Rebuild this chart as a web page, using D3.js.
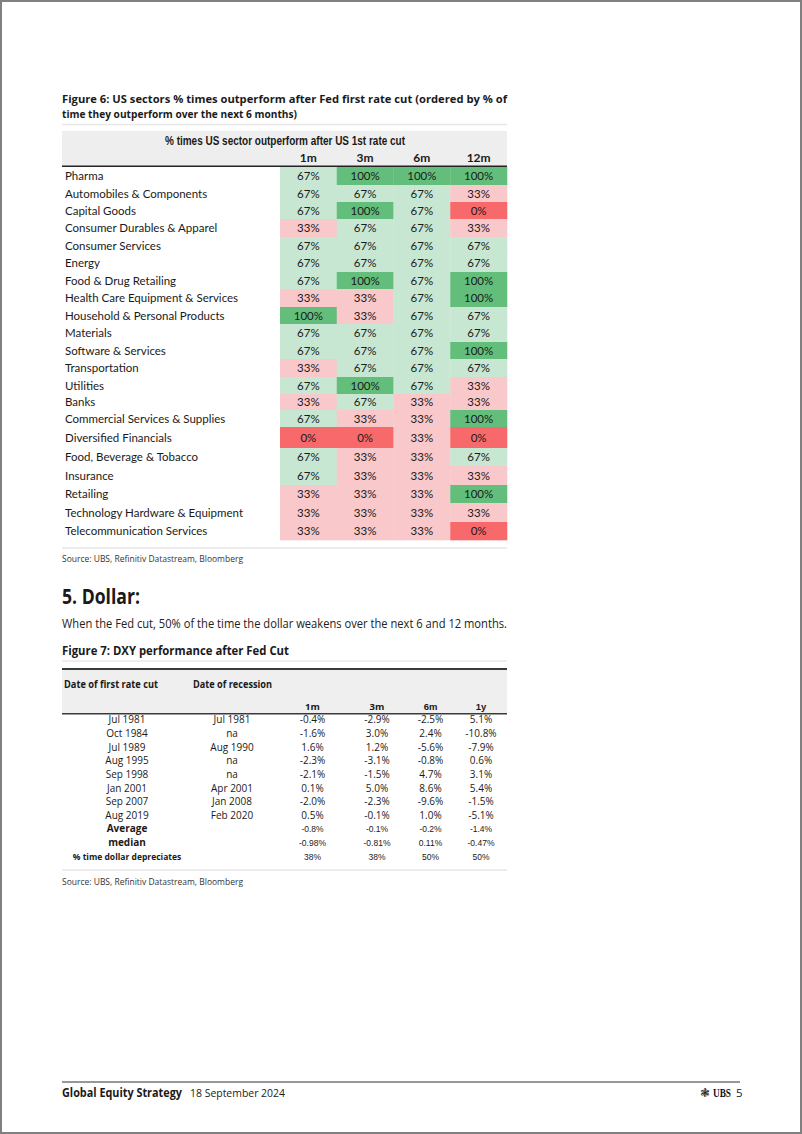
<!DOCTYPE html>
<html><head><meta charset="utf-8">
<script src="https://cdn.jsdelivr.net/npm/d3@7"></script>
<style>body{margin:0;background:#fff}svg{display:block}</style>
</head><body><svg id="c" width="802" height="1134"></svg>
<script>
// ---------- DATA ----------
const sectors = ["Pharma","Automobiles & Components","Capital Goods","Consumer Durables & Apparel","Consumer Services","Energy","Food & Drug Retailing","Health Care Equipment & Services","Household & Personal Products","Materials","Software & Services","Transportation","Utilities","Banks","Commercial Services & Supplies","Diversified Financials","Food, Beverage & Tobacco","Insurance","Retailing","Technology Hardware & Equipment","Telecommunication Services"];
const horizons = ["1m","3m","6m","12m"];
const out1m  = [67,67,67,33,67,67,67,33,100,67,67,33,67,33,67,0,67,67,33,33,33];
const out3m  = [100,67,100,67,67,67,100,33,33,67,67,67,100,67,33,0,33,33,33,33,33];
const out6m  = [100,67,67,67,67,67,67,67,67,67,67,67,67,33,33,33,33,33,33,33,33];
const out12m = [100,33,0,33,67,67,100,100,67,67,100,67,33,33,100,0,67,33,100,33,0];

const cutDates   = ["Jul 1981","Oct 1984","Jul 1989","Aug 1995","Sep 1998","Jan 2001","Sep 2007","Aug 2019"];
const recessions = ["Jul 1981","na","Aug 1990","na","na","Apr 2001","Jan 2008","Feb 2020"];
const dxyHorizons = ["1m","3m","6m","1y"];
const dxy1m = [-0.4,-1.6,1.6,-2.3,-2.1,0.1,-2.0,0.5];
const dxy3m = [-2.9,3.0,1.2,-3.1,-1.5,5.0,-2.3,-0.1];
const dxy6m = [-2.5,2.4,-5.6,-0.8,4.7,8.6,-9.6,1.0];
const dxy1y = [5.1,-10.8,-7.9,0.6,3.1,5.4,-1.5,-5.1];
const summaryLabels = ["Average","median","% time dollar depreciates"];
const summaryAverage = ["-0.8%","-0.1%","-0.2%","-1.4%"];
const summaryMedian  = ["-0.98%","-0.81%","0.11%","-0.47%"];
const summaryPctDep  = ["38%","38%","50%","50%"];

// ---------- LAYOUT (not data) ----------
const rowHeights1 = [18,17,17,18,17,18,17,18,17,18,17,18,17,16,17,21,18,19,18,19,18];
const colWidths2 = [130,80,81,48,59,42];

const svg = d3.select("#c");
const SANS = "'Open Sans', 'Noto Sans', sans-serif";
const CAL = "Lato, 'Open Sans', sans-serif";
const NARROW = "'Liberation Sans Narrow', 'Liberation Sans', Arial, sans-serif";
const ARIAL = "'Liberation Sans', Arial, sans-serif";

function fit(sel, w){
  sel.each(function(){
    const L = this.getComputedTextLength();
    if (Math.abs(L - w) > 0.5) d3.select(this).attr("textLength", w).attr("lengthAdjust","spacingAndGlyphs");
  });
  return sel;
}
function txt(x, y, s, o){
  const t = svg.append("text").attr("x",x).attr("y",y).text(s)
    .attr("font-family", o.font || SANS).attr("font-size", o.size || 12)
    .attr("font-weight", o.weight || "normal").attr("fill", o.fill || "#1a1a1a")
    .attr("text-anchor", o.anchor || "start");
  if (o.w) fit(t, o.w);
  return t;
}
function hline(x1,x2,y,c,w){ svg.append("line").attr("x1",x1).attr("x2",x2).attr("y1",y).attr("y2",y).attr("stroke",c).attr("stroke-width",w); }

// page frame
svg.append("rect").attr("x",1).attr("y",1).attr("width",800).attr("height",1132)
  .attr("fill","#fff").attr("stroke","#808080").attr("stroke-width",2);

// ---------- FIGURE 6 ----------
txt(62,103,"Figure 6: US sectors % times outperform after Fed first rate cut (ordered by % of",{weight:"bold",size:11,w:445});
txt(62,118,"time they outperform over the next 6 months)",{weight:"bold",size:11,w:235});
hline(62,507,124.5,"#e8e8e8",1.5);

const L1 = 62, R1 = 507;
svg.append("rect").attr("x",L1).attr("y",131).attr("width",R1-L1).attr("height",35.5).attr("fill","#eeeeee");
txt(285,145,"% times US sector outperform after US 1st rate cut",{font:NARROW,weight:"bold",size:13,anchor:"middle",w:240});

const x1 = d3.scaleBand().domain(horizons).range([280,507]);
const offs = [0, ...d3.cumsum(rowHeights1)];
const top1 = 167;
const yTop = d3.scaleOrdinal().domain(sectors).range(sectors.map((s,i)=>top1+offs[i]));
const hOf = d3.scaleOrdinal().domain(sectors).range(rowHeights1);
const color = d3.scaleOrdinal().domain([0,33,67,100]).range(["#f8696b","#f9c8ca","#c8e7d2","#63be7b"]);

svg.append("g").selectAll("text").data(horizons).join("text")
  .attr("x", d=>x1(d)+x1.bandwidth()/2).attr("y",162).attr("text-anchor","middle")
  .attr("font-family",CAL).attr("font-weight","bold").attr("font-size",12).attr("fill","#1a1a1a").text(d=>d);
hline(L1,R1,166.3,"#222",1.6);

const series1 = [out1m,out3m,out6m,out12m];
const cells = [];
sectors.forEach((s,i)=>horizons.forEach((h,j)=>cells.push({s,h,v:series1[j][i]})));

svg.append("g").selectAll("rect").data(cells).join("rect")
  .attr("x",d=>x1(d.h)).attr("y",d=>yTop(d.s)).attr("width",x1.bandwidth()+0.3).attr("height",d=>hOf(d.s)+0.3)
  .attr("fill",d=>color(d.v));
svg.append("g").selectAll("text").data(cells).join("text")
  .attr("x",d=>x1(d.h)+x1.bandwidth()/2).attr("y",d=>yTop(d.s)+hOf(d.s)/2+4)
  .attr("text-anchor","middle").attr("font-family",CAL).attr("font-size",11.5).attr("fill","#1a1a1a")
  .text(d=>d.v+"%");
svg.append("g").selectAll("text").data(sectors).join("text")
  .attr("x",65).attr("y",d=>yTop(d)+hOf(d)/2+4)
  .attr("font-family",CAL).attr("font-size",11.5).attr("fill","#1a1a1a").text(d=>d);

hline(L1,R1,548,"#e6e6e6",1.5);
txt(62,562,"Source: UBS, Refinitiv Datastream, Bloomberg",{size:9.5,fill:"#333",w:181});

// ---------- SECTION 5 ----------
txt(62,603.5,"5. Dollar:",{weight:"bold",size:21,w:78});
txt(62,628,"When the Fed cut, 50% of the time the dollar weakens over the next 6 and 12 months.",{size:12.5,fill:"#222",w:445});
txt(62,655,"Figure 7: DXY performance after Fed Cut",{weight:"bold",size:12.5,w:227});
hline(62,507,661,"#e8e8e8",1.5);

// ---------- FIGURE 7 ----------
const L2 = 62, R2 = 507;
const colEdges = [L2, ...d3.cumsum(colWidths2).map(v=>L2+v)];
const colKeys = ["cut","rec",...dxyHorizons];
const xc = d3.scaleOrdinal().domain(colKeys).range(colKeys.map((k,i)=>(colEdges[i]+colEdges[i+1])/2));

hline(L2,R2,669,"#3a3a3a",2);
svg.append("rect").attr("x",L2).attr("y",670).attr("width",R2-L2).attr("height",43).attr("fill","#efefef");
txt(64,688,"Date of first rate cut",{weight:"bold",size:10,w:94});
txt(193,688,"Date of recession",{weight:"bold",size:10,w:79});
svg.append("g").selectAll("text").data(dxyHorizons).join("text")
  .attr("x",d=>xc(d)).attr("y",710).attr("text-anchor","middle")
  .attr("font-family",(d,i)=>i<2?SANS:ARIAL).attr("font-weight","bold").attr("font-size",9.5)
  .attr("fill","#1a1a1a").text(d=>d);
hline(L2,R2,713.8,"#3a3a3a",1.6);

const nRows = cutDates.length + summaryLabels.length;
const y2 = d3.scaleBand().domain(d3.range(nRows)).range([713,863]);
const series2 = [dxy1m,dxy3m,dxy6m,dxy1y];
const fmt = v => v.toFixed(1)+"%";
const rows2 = cutDates.map((d,i)=>({i, cut:d, rec:recessions[i], vals:series2.map(s=>fmt(s[i])), summary:false}));
const sumVals = [summaryAverage, summaryMedian, summaryPctDep];
summaryLabels.forEach((l,k)=>rows2.push({i:cutDates.length+k, cut:l, rec:"", vals:sumVals[k], summary:true}));

const g2 = svg.append("g");
rows2.forEach(r=>{
  const yy = y2(r.i)+y2.bandwidth()/2+3.5;
  g2.append("text").attr("x",xc("cut")).attr("y",yy).attr("text-anchor","middle")
    .attr("font-family",SANS).attr("font-size",r.summary?(r.i===nRows-1?8.5:10):10).attr("font-weight",r.summary?"bold":"normal")
    .attr("fill","#1a1a1a").text(r.cut);
  if (r.rec) g2.append("text").attr("x",xc("rec")).attr("y",yy).attr("text-anchor","middle")
    .attr("font-family",SANS).attr("font-size",10).attr("fill","#1a1a1a").text(r.rec);
  r.vals.forEach((v,j)=>{
    g2.append("text").attr("x",xc(dxyHorizons[j])).attr("y",yy).attr("text-anchor","middle")
      .attr("font-family",r.summary?ARIAL:SANS).attr("font-size",r.summary?8.5:10).attr("fill","#1a1a1a").text(v);
  });
});
hline(L2,R2,870,"#e6e6e6",1.5);
txt(62,885,"Source: UBS, Refinitiv Datastream, Bloomberg",{size:9.5,fill:"#333",w:181});

// ---------- FOOTER ----------
hline(62,740,1082,"#333",1.2);
txt(62,1097,"Global Equity Strategy",{weight:"bold",size:11.5,w:120});
txt(190,1097,"18 September 2024",{size:11.5,fill:"#222",w:95});
txt(700,1097,"\u2743",{font:"'DejaVu Sans'",size:12,fill:"#222"});
txt(713,1097,"UBS",{font:"'Liberation Serif', serif",weight:"bold",size:12,fill:"#111",w:18});
txt(736,1097,"5",{size:11.5,fill:"#222"});
</script></body></html>
